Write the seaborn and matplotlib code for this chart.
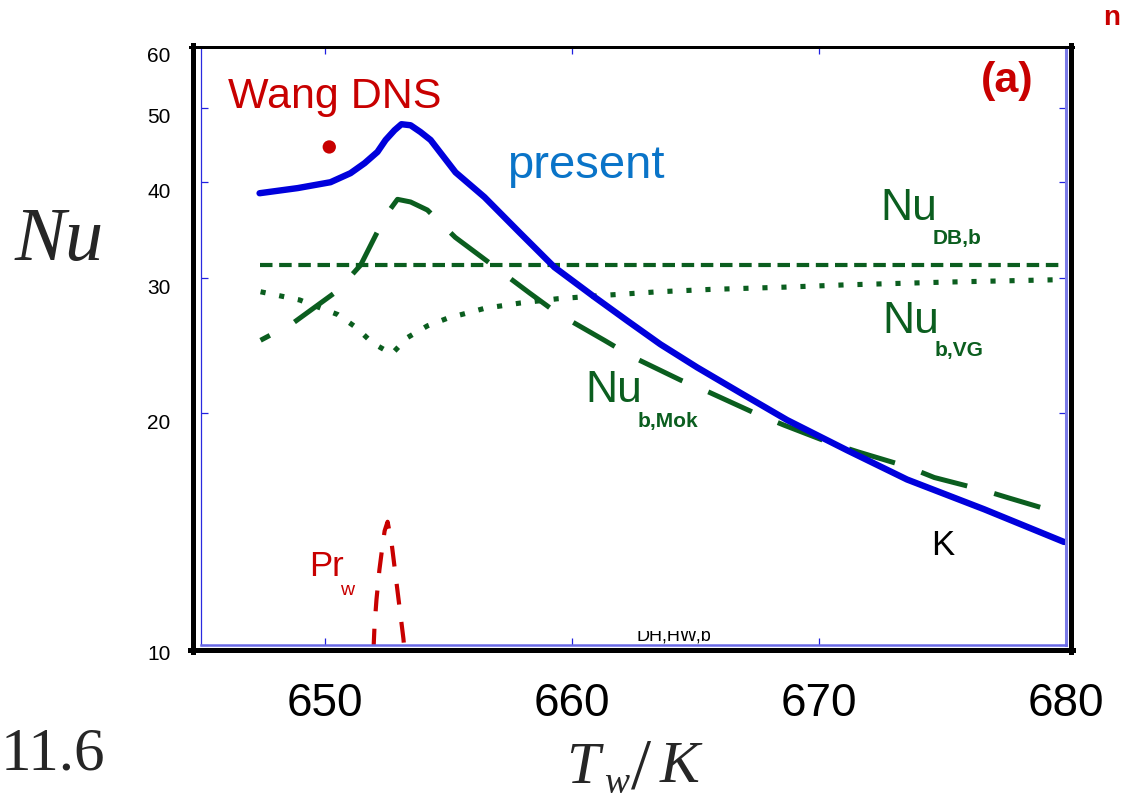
import matplotlib
matplotlib.use("Agg")
import matplotlib.pyplot as plt
from matplotlib.lines import Line2D
from matplotlib.patches import Rectangle
from matplotlib.ticker import NullLocator
from matplotlib.transforms import ScaledTranslation
import seaborn as sns

# values: wall temperature T_w [K] against Nu
present_T = [647.37, 648.91, 650.24, 651.05, 651.62, 652.14, 652.47, 652.83, 653.11, 653.48,
             653.88, 654.29, 655.30, 656.47, 657.89, 659.30, 660.92, 662.25, 663.59, 665.08,
             666.90, 668.72, 671.15, 673.57, 676.69, 679.92]
present_Nu = [38.7, 39.3, 40.0, 41.1, 42.35, 43.8, 45.4, 46.75, 47.6, 47.45,
              46.5, 45.4, 41.2, 38.25, 34.4, 31.0, 28.35, 26.4, 24.6, 22.95,
              21.2, 19.6, 17.9, 16.4, 15.0, 13.6]

mok_T = [647.41, 648.71, 650.53, 651.46, 652.47, 652.95, 653.48, 654.16, 655.29, 656.39, 658.29,
         659.42, 661.32, 662.45, 664.40, 665.57, 667.43, 668.60, 670.46, 671.63, 673.57, 674.67,
         676.61, 677.74, 679.84]
mok_Nu = [24.9, 26.2, 28.9, 31.2, 36.2, 38.0, 37.7, 36.8, 33.9, 31.9, 28.7,
          27.0, 24.9, 23.7, 22.1, 21.3, 20.0, 19.3, 18.3, 17.8, 17.05, 16.5,
          15.9, 15.5, 14.8]

db_T = [647.4, 680.0]
db_Nu = [31.2, 31.2]

vg_T = [647.41, 648.99, 650.53, 651.26, 651.94, 652.72, 653.35, 654.16, 654.97, 655.73, 656.47,
        657.94, 659.42, 661.36, 663.52, 665.57, 668.60, 671.06, 675.20, 679.50]
vg_Nu = [28.8, 28.1, 26.9, 25.9, 24.7, 23.9, 25.1, 26.0, 26.6, 27.0, 27.4,
         27.85, 28.2, 28.5, 28.8, 29.0, 29.2, 29.4, 29.65, 29.85]

pr_T = [651.98, 652.02, 652.10, 652.22, 652.35, 652.43, 652.55, 652.71, 652.87, 653.03, 653.19, 653.23]
pr_Nu = [9.85, 10.55, 11.44, 12.52, 13.49, 14.06, 14.45, 13.57, 12.33, 11.20, 10.18, 9.85]

wang_T = [650.19]
wang_Nu = [44.46]

x_ticks = [650, 660, 670, 680]
y_ticks = [10, 20, 30, 40, 50, 60]
y_labels = ["10", "20", "30", "40", "50", "60"]

BLUE = "#0000dc"
GREEN = "#0b5e1f"
RED = "#c80000"
TICK = "#2020e0"

W, H = 1121, 804

sns.set_theme(style="white")
plt.rcParams["font.family"] = ["Liberation Sans", "DejaVu Sans"]


def fx(x):
    return x / W


def fy(y):
    return 1 - y / H


fig = plt.figure(figsize=(W / 100, H / 100), dpi=100, facecolor="white")
ax = fig.add_axes([fx(201), fy(645.5), fx(1066) - fx(201), fy(48) - fy(645.5)])
ax.set_facecolor("white")

sns.lineplot(x=db_T, y=db_Nu, ax=ax, color=GREEN, lw=3.0, errorbar=None,
             linestyle=(0, (3.0, 1.6)), dash_capstyle="butt")
sns.lineplot(x=vg_T, y=vg_Nu, ax=ax, color=GREEN, lw=3.7, errorbar=None,
             linestyle=(0, (1.0, 2.7)), dash_capstyle="butt")
sns.lineplot(x=mok_T, y=mok_Nu, ax=ax, color=GREEN, lw=3.6, errorbar=None,
             linestyle=(7.5, (9.6, 5.6)), dash_capstyle="butt")
sns.lineplot(x=present_T, y=present_Nu, ax=ax, color=BLUE, lw=4.6, errorbar=None)
sns.lineplot(x=pr_T, y=pr_Nu, ax=ax, color=RED, lw=3.0, errorbar=None, sort=False,
             linestyle=(0, (5.0, 4.2)), dash_capstyle="butt")
sns.scatterplot(x=wang_T, y=wang_Nu, ax=ax, color=RED, s=92, edgecolor="none", zorder=5)

ax.set_yscale("log")
ax.set_xlim(645, 680)
ax.set_ylim(10, 60)
ax.set_xticks(x_ticks)
ax.set_xticklabels([str(t) for t in x_ticks])
ax.set_yticks(y_ticks)
ax.set_yticklabels(y_labels)
ax.yaxis.set_minor_locator(NullLocator())
ax.xaxis.set_minor_locator(NullLocator())
ax.set_xlabel("")
ax.set_ylabel("")

ax.tick_params(axis="both", which="major", direction="in", color=TICK, length=5, width=0.9,
               top=True, right=True, bottom=True, left=True, labelcolor="black")
ax.tick_params(axis="x", labelsize=33, pad=26)
ax.tick_params(axis="y", labelsize=15, pad=22)
for tk in ax.yaxis.get_major_ticks():
    tk.label1.set_transform(tk.label1.get_transform() + ScaledTranslation(0, -0.07, fig.dpi_scale_trans))

ax.spines["left"].set_color("#2a2ae0")
ax.spines["left"].set_linewidth(0.9)
ax.spines["bottom"].set_color("#6a6ae6")
ax.spines["bottom"].set_linewidth(1.8)
ax.spines["right"].set_color("#7a7ae6")
ax.spines["right"].set_linewidth(2.2)
ax.spines["top"].set_visible(False)

# outer black frame of the original figure
for (x0, y0, x1, y1, lw) in [(192.5, 45.5, 192.5, 653, 5), (190, 650.5, 1073, 650.5, 5),
                             (1070.5, 45.5, 1070.5, 653, 5), (190, 47.5, 1073, 47.5, 3)]:
    fig.add_artist(Line2D([fx(x0), fx(x1)], [fy(y0), fy(y1)], color="black",
                          lw=lw * 0.72, solid_capstyle="projecting"))

# curve labels
fig.text(fx(228), fy(108), "Wang DNS", color=RED, fontsize=31, ha="left", va="baseline")
fig.text(fx(507), fy(178), "present", color="#0a74c8", fontsize=34, ha="left", va="baseline")
fig.text(fx(1007), fy(81), "(a)", color=RED, fontsize=31, fontweight="bold", ha="center", va="center")
fig.text(fx(1112), fy(18), "n", color=RED, fontsize=20, fontweight="bold", ha="center", va="center")

fig.text(fx(880), fy(220), "Nu", color=GREEN, fontsize=32, ha="left", va="baseline")
fig.text(fx(933), fy(244), "DB,b", color=GREEN, fontsize=15, fontweight="bold", ha="left", va="baseline")
fig.text(fx(882), fy(333), "Nu", color=GREEN, fontsize=32, ha="left", va="baseline")
fig.text(fx(935), fy(356), "b,VG", color=GREEN, fontsize=15, fontweight="bold", ha="left", va="baseline")
fig.text(fx(585), fy(402), "Nu", color=GREEN, fontsize=32, ha="left", va="baseline")
fig.text(fx(638), fy(427), "b,Mok", color=GREEN, fontsize=15, fontweight="bold", ha="left", va="baseline")

fig.text(fx(309), fy(576), "Pr", color=RED, fontsize=25, ha="left", va="baseline")
fig.text(fx(340), fy(595), "w", color=RED, fontsize=14, ha="left", va="baseline")
fig.text(fx(943), fy(546), "K", color="black", fontsize=25, ha="center", va="center")

# half hidden subscript left over at the bottom of the frame
fig.text(fx(636), fy(641), "DH,HW,b", color="black", fontsize=13, ha="left", va="baseline", zorder=3)
fig.add_artist(Rectangle((fx(628), fy(632)), fx(90), fy(600) - fy(632),
                         facecolor="white", edgecolor="none", zorder=6))
# top of the "60" label is cut in the original
fig.add_artist(Rectangle((fx(135), fy(46)), fx(55), fy(0) - fy(46),
                         facecolor="white", edgecolor="none", zorder=6))

# axis titles in serif italic
serif = ["Liberation Serif", "DejaVu Serif"]
fig.text(fx(15), fy(260), "Nu", family=serif, style="italic", fontsize=55, ha="left", va="baseline")
fig.text(fx(566), fy(783), "T", family=serif, style="italic", fontsize=43, ha="left", va="baseline")
fig.text(fx(604), fy(793), "w", family=serif, style="italic", fontsize=27, ha="left", va="baseline")
fig.text(fx(631), fy(788), "/", family=serif, fontsize=52, ha="left", va="baseline")
fig.text(fx(660), fy(782), "K", family=serif, style="italic", fontsize=43, ha="left", va="baseline")
fig.text(fx(1), fy(770), "11.6", family=serif, fontsize=44, ha="left", va="baseline")

fig.savefig("out.png", dpi=100, facecolor="white")
